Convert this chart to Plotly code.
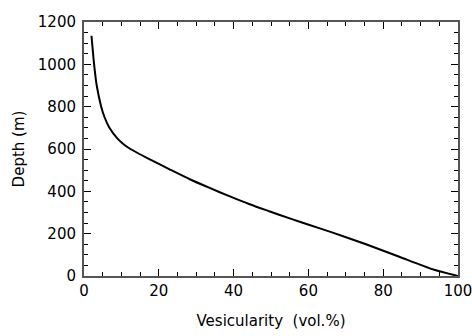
import plotly.graph_objects as go

vesicularity = [2.0, 2.7, 3.4, 4.6, 5.5, 6.8, 8.9, 10.5, 12.4, 17.6, 23.0, 28.3, 33.6,
                39.0, 44.3, 49.7, 55.0, 60.3, 66.5, 75.4, 84.3, 93.2, 100.0]
depth = [1135, 1000, 900, 800, 750, 700, 650, 624, 600, 551, 503, 457, 416,
         376, 339, 305, 272, 241, 205, 150, 91, 32, 0]

x_ticks = [0, 20, 40, 60, 80, 100]
y_ticks = [0, 200, 400, 600, 800, 1000, 1200]
x_minor = [5, 10, 15, 25, 30, 35, 45, 50, 55, 65, 70, 75, 85, 90, 95]
y_minor = [50, 100, 150, 250, 300, 350, 450, 500, 550, 650, 700, 750, 850, 900, 950, 1050, 1100, 1150]

FONT = "DejaVu Sans"
X_RANGE = [0, 100]
Y_RANGE = [0, 1200]

fig = go.Figure()
fig.add_trace(go.Scatter(x=vesicularity, y=depth, mode="lines",
                         line=dict(color="black", width=2, shape="spline", smoothing=0.6),
                         showlegend=False, hoverinfo="skip"))
# empty traces to attach the overlay axes (minor ticks / labels)
fig.add_trace(go.Scatter(x=[], y=[], xaxis="x2", yaxis="y2", showlegend=False, hoverinfo="skip"))
fig.add_trace(go.Scatter(x=[], y=[], xaxis="x3", yaxis="y3", showlegend=False, hoverinfo="skip"))

fig.update_layout(
    width=472, height=336,
    margin=dict(l=84, r=14, t=22, b=60),
    paper_bgcolor="white", plot_bgcolor="white",
    font=dict(family=FONT, size=15, color="black"),
    # major ticks + frame
    xaxis=dict(range=X_RANGE, tickvals=x_ticks, showticklabels=False,
               showgrid=False, zeroline=False, showline=True, linecolor="#555555", linewidth=1.5,
               mirror="ticks", ticks="inside", ticklen=7, tickwidth=1, tickcolor="black"),
    yaxis=dict(range=Y_RANGE, tickvals=y_ticks, showticklabels=False,
               showgrid=False, zeroline=False, showline=True, linecolor="#555555", linewidth=1.5,
               mirror="ticks", ticks="inside", ticklen=7, tickwidth=1, tickcolor="black"),
    # minor ticks
    xaxis2=dict(range=X_RANGE, tickvals=x_minor, overlaying="x", anchor="y2", side="bottom",
                showgrid=False, zeroline=False, showline=False, showticklabels=False,
                mirror="ticks", ticks="inside", ticklen=4, tickwidth=1, tickcolor="black"),
    yaxis2=dict(range=Y_RANGE, tickvals=y_minor, overlaying="y", anchor="x2", side="left",
                showgrid=False, zeroline=False, showline=False, showticklabels=False,
                mirror="ticks", ticks="inside", ticklen=4, tickwidth=1, tickcolor="black"),
    # tick labels and titles
    xaxis3=dict(range=X_RANGE, tickvals=x_ticks, overlaying="x", anchor="y3", side="bottom",
                showgrid=False, zeroline=False, showline=False, ticks="",
                automargin=False, ticklabeloverflow="allow", ticklabelstandoff=4,
                tickfont=dict(family=FONT, size=15, color="black"),
                title=dict(text="Vesicularity  (vol.%)", standoff=16,
                           font=dict(family=FONT, size=15, color="black"))),
    yaxis3=dict(range=Y_RANGE, tickvals=y_ticks, overlaying="y", anchor="x3", side="left",
                showgrid=False, zeroline=False, showline=False, ticks="",
                automargin=False, ticklabeloverflow="allow", ticklabelstandoff=7,
                tickfont=dict(family=FONT, size=15, color="black"),
                title=dict(text="Depth (m)", standoff=9,
                           font=dict(family=FONT, size=15, color="black"))),
)

fig.write_html("out.html")
